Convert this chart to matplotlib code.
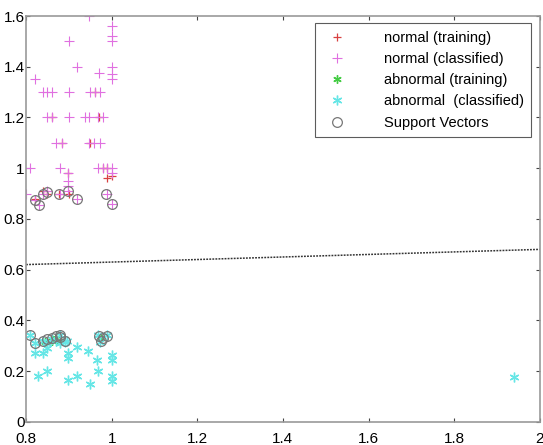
import matplotlib
matplotlib.use("Agg")
from matplotlib import pyplot as plt

plt.rcParams['font.family'] = ['Liberation Sans', 'DejaVu Sans']

# normal (training)
norm_train_x = [0.85, 0.877, 0.898, 1.0, 0.98, 0.884, 0.95, 0.97, 0.86, 0.96, 0.99, 0.84, 0.90, 0.82, 0.99]
norm_train_y = [0.90, 0.90, 0.98, 0.97, 1.0, 1.10, 1.10, 1.20, 1.20, 1.30, 1.0, 0.91, 0.90, 0.88, 0.96]

# normal (classified)
norm_cls_x = [0.947, 1.0, 1.0, 0.90, 1.0, 0.92, 0.97, 1.0, 1.0, 1.0, 0.82,
              0.84, 0.85, 0.86, 0.90, 0.949, 0.961, 0.973,
              0.849, 0.861, 0.90, 0.938, 0.947, 0.968, 0.98,
              0.87, 0.884, 0.947, 0.959, 0.973,
              0.81, 0.88, 0.968, 0.98, 0.99, 1.0,
              0.898, 1.0, 0.898, 0.898,
              0.80, 0.84, 0.85, 0.88, 0.898, 0.99,
              0.82, 0.92, 0.83, 1.0]
norm_cls_y = [1.60, 1.56, 1.52, 1.50, 1.50, 1.40, 1.375, 1.40, 1.37, 1.35, 1.35,
              1.30, 1.30, 1.30, 1.30, 1.30, 1.30, 1.30,
              1.20, 1.20, 1.20, 1.20, 1.20, 1.20, 1.20,
              1.10, 1.10, 1.10, 1.10, 1.10,
              1.0, 1.0, 1.0, 1.0, 1.0, 1.0,
              0.98, 0.98, 0.95, 0.93,
              0.90, 0.90, 0.91, 0.90, 0.91, 0.90,
              0.875, 0.878, 0.855, 0.86]

# abnormal (training)
abn_train_x = [0.86, 0.87, 0.845, 0.88, 0.975]
abn_train_y = [0.32, 0.33, 0.315, 0.32, 0.33]

# abnormal (classified)
abn_cls_x = [0.81, 0.821, 0.84, 0.85, 0.86, 0.87, 0.88, 0.89, 0.896, 0.879, 0.968, 0.989, 0.973,
             0.82, 0.84, 0.85, 0.898, 0.898, 0.92, 0.945, 0.965, 1.0, 1.0,
             0.828, 0.849, 0.898, 0.92, 0.949, 0.968, 1.0, 1.0, 1.94]
abn_cls_y = [0.343, 0.31, 0.32, 0.31, 0.325, 0.32, 0.31, 0.315, 0.32, 0.343, 0.343, 0.343, 0.315,
             0.27, 0.27, 0.29, 0.27, 0.25, 0.295, 0.28, 0.245, 0.265, 0.245,
             0.18, 0.20, 0.165, 0.18, 0.15, 0.20, 0.18, 0.16, 0.178]

# support vectors
sv_x = [0.821, 0.83, 0.84, 0.85, 0.877, 0.898, 0.92, 0.987, 1.0,
        0.81, 0.82, 0.84, 0.85, 0.86, 0.87, 0.88, 0.89, 0.879, 0.97, 0.975, 0.99, 0.98]
sv_y = [0.875, 0.855, 0.90, 0.907, 0.90, 0.91, 0.878, 0.90, 0.86,
        0.343, 0.31, 0.32, 0.325, 0.33, 0.34, 0.335, 0.32, 0.343, 0.34, 0.32, 0.34, 0.33]

# decision boundary
line_x = [0.8, 2.0]
line_y = [0.62, 0.68]

fig = plt.figure(figsize=(5.43, 4.45), dpi=100)
ax = fig.add_axes([0.048, 0.052, 0.946, 0.912])

star = (6, 2, 0)  # asterisk like matlab '*'
ax.plot(norm_train_x, norm_train_y, '+', color='#d84040', ms=6, mew=0.9, label='normal (training)')
ax.plot(norm_cls_x, norm_cls_y, '+', color='#e070e0', ms=7, mew=0.8, label='normal (classified)')
ax.plot(abn_train_x, abn_train_y, marker=star, ls='none', color='#44cc44', ms=6, mew=1.0, label='abnormal (training)')
ax.plot(abn_cls_x, abn_cls_y, marker=star, ls='none', color='#66e6e6', ms=7, mew=1.0, label='abnormal  (classified)')
ax.plot(sv_x, sv_y, 'o', mfc='none', mec='#777777', ms=7, mew=0.9, label='Support Vectors')
ax.plot(line_x, line_y, color='#333333', ls=(0, (1.2, 0.8)), lw=1.1)

ax.set_xlim(0.8, 2.0)
ax.set_ylim(0, 1.6)
ax.set_xticks([0.8, 1.0, 1.2, 1.4, 1.6, 1.8, 2.0])
ax.set_xticklabels(['0.8', '1', '1.2', '1.4', '1.6', '1.8', '2'])
ax.set_yticks([0, 0.2, 0.4, 0.6, 0.8, 1.0, 1.2, 1.4, 1.6])
ax.set_yticklabels(['0', '0.2', '0.4', '0.6', '0.8', '1', '1.2', '1.4', '1.6'])
ax.tick_params(direction='in', length=3, color='#444444', labelsize=11, top=True, right=True)
ax.tick_params(axis='x', pad=7)
ax.tick_params(axis='y', pad=1)
for s in ax.spines.values():
    s.set_color('#999999')
    s.set_linewidth(1.2)

leg = ax.legend(loc='upper right', bbox_to_anchor=(0.983, 0.982), fontsize=10.5, frameon=True,
                fancybox=False, edgecolor='#333333', handlelength=2.0, handletextpad=2.2,
                labelspacing=0.5, borderpad=0.5, borderaxespad=0, markerscale=1.0)
leg.get_frame().set_linewidth(0.8)

fig.savefig('out.png', dpi=100)
